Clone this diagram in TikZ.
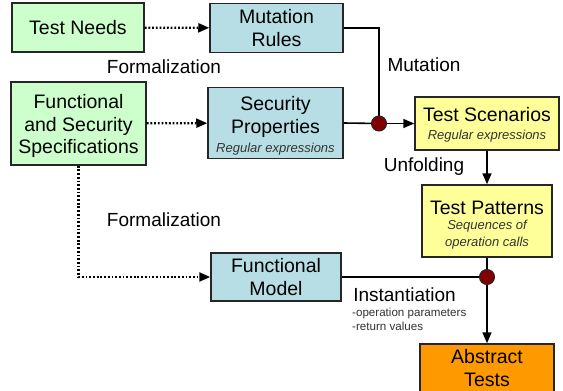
\documentclass[tikz,border=0pt]{standalone}
\usepackage{fontspec}
\setmainfont{Liberation Sans}
\usetikzlibrary{arrows.meta}

\definecolor{specgreen}{HTML}{CCFFCC}
\definecolor{modelblue}{HTML}{B7DEE4}
\definecolor{scenyellow}{HTML}{FFFF99}
\definecolor{testorange}{HTML}{FF9900}
\definecolor{joinred}{HTML}{800000}

\newcommand{\subnote}[1]{{\fontsize{13}{16}\selectfont\itshape\color{black!80}#1}}
% extra room above the first line of a box
\newcommand{\topgap}[1]{\rule{0pt}{#1}}

\tikzset{
  box/.style={draw=black!85, line width=1.5pt, align=center, inner sep=0pt,
    font=\fontsize{19.5}{22.5}\selectfont},
  specbox/.style={box, fill=specgreen},
  modelbox/.style={box, fill=modelblue},
  scenbox/.style={box, fill=scenyellow},
  testbox/.style={box, fill=testorange},
  stepname/.style={inner sep=0pt, font=\fontsize{19}{22}\selectfont},
  joindot/.style={circle, draw=black!85, line width=1pt, fill=joinred, inner sep=0pt, minimum size=15pt},
  link/.style={line width=1.6pt},
  flow/.style={link, -{Triangle[length=11pt,width=9pt]}},
  formal/.style={flow, line width=2.2pt, dash pattern=on 1.8pt off 1.9pt}
}

\begin{document}
\begin{tikzpicture}[x=1pt,y=-1pt]
\useasboundingbox (0,0) rectangle (563,391);

% inputs
\node[specbox, minimum width=132pt, minimum height=49pt] (needs) at (78,27.5) {Test Needs};
\node[specbox, minimum width=135pt, minimum height=83pt] (specs) at (78.5,123.5)
  {\topgap{20pt}Functional\\and Security\\Specifications};

% formal models
\node[modelbox, minimum width=133pt, minimum height=49pt] (rules) at (276.5,28) {Mutation\\Rules};
\node[modelbox, minimum width=135pt, minimum height=71pt] (props) at (275.5,123)
  {\topgap{20.5pt}Security\\Properties\\[-3pt]\subnote{Regular expressions}};
\node[modelbox, minimum width=130pt, minimum height=48pt] (model) at (276,277) {Functional\\Model};

% generated tests
\node[scenbox, minimum width=144pt, minimum height=53pt] (scen) at (487,123.5)
  {\topgap{17pt}Test Scenarios\\[-5pt]\subnote{Regular expressions}};
\node[scenbox, minimum width=130pt, minimum height=72pt] (pat) at (487,221)
  {\topgap{21pt}Test Patterns\\[-7pt]\subnote{Sequences of}\\[-6pt]\subnote{operation calls}};
\node[testbox, minimum width=134pt, minimum height=48pt] (abs) at (487,368) {Abstract\\Tests};

% junctions
\node[joindot] (j1) at (379,123.5) {};
\node[joindot] (j2) at (487,277) {};

% connectors
\draw[formal] (needs) -- (rules);
\draw[formal] (specs) -- (props);
\draw[formal] (specs.south) |- (model.west);
\draw[link] (rules.east) -| (j1);
\draw[link] (props.east) -- (j1);
\draw[flow] (j1) -- (scen);
\draw[flow] (scen) -- (pat);
\draw[link] (pat) -- (j2);
\draw[link] (model) -- (j2);
\draw[flow] (j2) -- (abs);

% step names
\node[stepname] (lform1) at (164,67) {Formalization};
\node[stepname] (lform2) at (164,219.5) {Formalization};
\node[stepname] (lmut) at (424,65) {Mutation};
\node[stepname] (lunf) at (424,166.5) {Unfolding};
\node[stepname] (linst) at (404.5,294.5) {Instantiation};
\node[inner sep=0pt, anchor=north west, align=left, font=\fontsize{11.6}{14}\selectfont,
  text=black!80] (lnotes) at (352,307.5) {-operation parameters\\-return values};
\end{tikzpicture}
\end{document}
